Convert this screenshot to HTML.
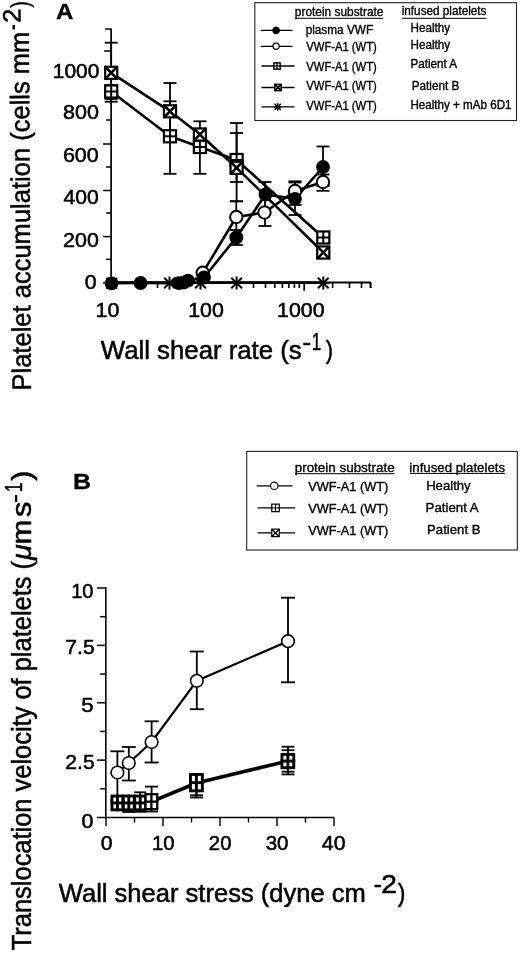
<!DOCTYPE html>
<html><head><meta charset="utf-8"><title>Figure</title>
<style>html,body{margin:0;padding:0;background:#fff}svg{display:block}text{font-family:"Liberation Sans", sans-serif;fill:#000}</style>
</head><body>
<svg width="520" height="954" viewBox="0 0 520 954">
<rect width="520" height="954" fill="#fff"/>
<line x1="111.10" y1="28.50" x2="111.10" y2="283.50" stroke="#000" stroke-width="1.7" />
<line x1="110.30" y1="282.50" x2="371.00" y2="282.50" stroke="#000" stroke-width="1.9" />
<line x1="111.10" y1="282.70" x2="323.70" y2="282.70" stroke="#000" stroke-width="2.7" />
<line x1="105.10" y1="29.00" x2="111.10" y2="29.00" stroke="#000" stroke-width="1.5" />
<line x1="104.10" y1="51.00" x2="111.10" y2="51.00" stroke="#000" stroke-width="1.5" />
<line x1="104.10" y1="97.00" x2="111.10" y2="97.00" stroke="#000" stroke-width="1.5" />
<line x1="106.10" y1="120.00" x2="111.10" y2="120.00" stroke="#000" stroke-width="1.5" />
<line x1="103.10" y1="144.00" x2="111.10" y2="144.00" stroke="#000" stroke-width="1.5" />
<line x1="106.10" y1="167.00" x2="111.10" y2="167.00" stroke="#000" stroke-width="1.5" />
<line x1="103.10" y1="190.50" x2="111.10" y2="190.50" stroke="#000" stroke-width="1.5" />
<line x1="106.10" y1="213.00" x2="111.10" y2="213.00" stroke="#000" stroke-width="1.5" />
<line x1="103.10" y1="236.60" x2="111.10" y2="236.60" stroke="#000" stroke-width="1.5" />
<line x1="106.10" y1="259.30" x2="111.10" y2="259.30" stroke="#000" stroke-width="1.5" />
<line x1="103.10" y1="283.00" x2="111.10" y2="283.00" stroke="#000" stroke-width="1.5" />
<line x1="157.50" y1="282.50" x2="157.50" y2="288.00" stroke="#000" stroke-width="1.6" />
<line x1="253.50" y1="282.50" x2="253.50" y2="288.00" stroke="#000" stroke-width="1.6" />
<line x1="265.50" y1="282.50" x2="265.50" y2="288.00" stroke="#000" stroke-width="1.6" />
<line x1="274.80" y1="282.50" x2="274.80" y2="288.00" stroke="#000" stroke-width="1.6" />
<line x1="282.40" y1="282.50" x2="282.40" y2="288.00" stroke="#000" stroke-width="1.6" />
<line x1="288.83" y1="282.50" x2="288.83" y2="288.00" stroke="#000" stroke-width="1.6" />
<line x1="294.40" y1="282.50" x2="294.40" y2="288.00" stroke="#000" stroke-width="1.6" />
<line x1="299.31" y1="282.50" x2="299.31" y2="288.00" stroke="#000" stroke-width="1.6" />
<line x1="332.60" y1="282.50" x2="332.60" y2="288.00" stroke="#000" stroke-width="1.6" />
<line x1="349.50" y1="282.50" x2="349.50" y2="288.00" stroke="#000" stroke-width="1.6" />
<line x1="361.50" y1="282.50" x2="361.50" y2="288.00" stroke="#000" stroke-width="1.6" />
<line x1="370.80" y1="282.50" x2="370.80" y2="288.00" stroke="#000" stroke-width="1.6" />
<line x1="304.20" y1="282.50" x2="304.20" y2="290.80" stroke="#000" stroke-width="1.7" />
<line x1="370.30" y1="282.50" x2="370.30" y2="288.00" stroke="#000" stroke-width="1.6" />
<text x="52.83" y="77.50" font-size="19.8" textLength="46.60" lengthAdjust="spacingAndGlyphs" stroke="#000" stroke-width="0.5">1000</text>
<text x="63.03" y="118.90" font-size="19.8" textLength="35.90" lengthAdjust="spacingAndGlyphs" stroke="#000" stroke-width="0.5">800</text>
<text x="62.92" y="162.10" font-size="19.8" textLength="35.91" lengthAdjust="spacingAndGlyphs" stroke="#000" stroke-width="0.5">600</text>
<text x="63.47" y="203.60" font-size="19.8" textLength="35.35" lengthAdjust="spacingAndGlyphs" stroke="#000" stroke-width="0.5">400</text>
<text x="63.13" y="247.40" font-size="19.8" textLength="35.70" lengthAdjust="spacingAndGlyphs" stroke="#000" stroke-width="0.5">200</text>
<text x="84.74" y="289.30" font-size="19.8" textLength="11.94" lengthAdjust="spacingAndGlyphs" stroke="#000" stroke-width="0.5">0</text>
<text x="95.49" y="317.20" font-size="20.8" textLength="23.81" lengthAdjust="spacingAndGlyphs" stroke="#000" stroke-width="0.5">10</text>
<text x="188.20" y="317.20" font-size="20.8" textLength="35.63" lengthAdjust="spacingAndGlyphs" stroke="#000" stroke-width="0.5">100</text>
<text x="277.10" y="317.20" font-size="20.8" textLength="47.55" lengthAdjust="spacingAndGlyphs" stroke="#000" stroke-width="0.5">1000</text>
<text x="100.77" y="358.60" font-size="25.3" textLength="200.99" lengthAdjust="spacingAndGlyphs" stroke="#000" stroke-width="0.5">Wall shear rate (s</text>
<text x="302.62" y="349.80" font-size="24.5" textLength="8.70" lengthAdjust="spacingAndGlyphs" stroke="#000" stroke-width="0.5">-</text>
<text x="311.73" y="349.80" font-size="24.5" textLength="9.44" lengthAdjust="spacingAndGlyphs" stroke="#000" stroke-width="0.5">1</text>
<text x="325.68" y="358.60" font-size="25.3" textLength="7.30" lengthAdjust="spacingAndGlyphs" stroke="#000" stroke-width="0.5">)</text>
<g transform="rotate(-0.36 31.2 389)">
<text x="-390.54" y="0" font-size="26.8" textLength="358.93" lengthAdjust="spacingAndGlyphs" transform="translate(31.00 0) rotate(-90)" stroke="#000" stroke-width="0.5">Platelet accumulation (cells mm</text>
<text x="-29.85" y="0" font-size="25" textLength="5.57" lengthAdjust="spacingAndGlyphs" transform="translate(22.70 0) rotate(-90)" stroke="#000" stroke-width="0.5">-</text>
<text x="-22.67" y="0" font-size="25" textLength="14.18" lengthAdjust="spacingAndGlyphs" transform="translate(22.70 0) rotate(-90)" stroke="#000" stroke-width="0.5">2</text>
<text x="-7.39" y="0" font-size="25" textLength="6.40" lengthAdjust="spacingAndGlyphs" transform="translate(31.00 0) rotate(-90)" stroke="#000" stroke-width="0.5">)</text>
</g>
<text x="56.10" y="19.00" font-size="22" textLength="17.35" lengthAdjust="spacingAndGlyphs" font-weight="bold" stroke="#000" stroke-width="0.3">A</text>
<line x1="111.20" y1="42.70" x2="111.20" y2="99.00" stroke="#000" stroke-width="1.8" />
<line x1="104.70" y1="42.70" x2="117.70" y2="42.70" stroke="#000" stroke-width="1.8" />
<line x1="104.70" y1="99.00" x2="117.70" y2="99.00" stroke="#000" stroke-width="1.8" />
<line x1="111.20" y1="85.00" x2="111.20" y2="101.70" stroke="#000" stroke-width="1.8" />
<line x1="104.70" y1="85.00" x2="117.70" y2="85.00" stroke="#000" stroke-width="1.8" />
<line x1="104.70" y1="101.70" x2="117.70" y2="101.70" stroke="#000" stroke-width="1.8" />
<line x1="170.00" y1="83.00" x2="170.00" y2="139.00" stroke="#000" stroke-width="1.8" />
<line x1="163.50" y1="83.00" x2="176.50" y2="83.00" stroke="#000" stroke-width="1.8" />
<line x1="163.50" y1="139.00" x2="176.50" y2="139.00" stroke="#000" stroke-width="1.8" />
<line x1="170.00" y1="101.30" x2="170.00" y2="173.80" stroke="#000" stroke-width="1.8" />
<line x1="163.50" y1="101.30" x2="176.50" y2="101.30" stroke="#000" stroke-width="1.8" />
<line x1="163.50" y1="173.80" x2="176.50" y2="173.80" stroke="#000" stroke-width="1.8" />
<line x1="199.90" y1="121.30" x2="199.90" y2="150.00" stroke="#000" stroke-width="1.8" />
<line x1="193.40" y1="121.30" x2="206.40" y2="121.30" stroke="#000" stroke-width="1.8" />
<line x1="193.40" y1="150.00" x2="206.40" y2="150.00" stroke="#000" stroke-width="1.8" />
<line x1="199.90" y1="140.00" x2="199.90" y2="173.80" stroke="#000" stroke-width="1.8" />
<line x1="193.40" y1="140.00" x2="206.40" y2="140.00" stroke="#000" stroke-width="1.8" />
<line x1="193.40" y1="173.80" x2="206.40" y2="173.80" stroke="#000" stroke-width="1.8" />
<line x1="236.60" y1="123.00" x2="236.60" y2="201.30" stroke="#000" stroke-width="1.8" />
<line x1="230.10" y1="123.00" x2="243.10" y2="123.00" stroke="#000" stroke-width="1.8" />
<line x1="230.10" y1="201.30" x2="243.10" y2="201.30" stroke="#000" stroke-width="1.8" />
<line x1="236.60" y1="133.00" x2="236.60" y2="182.00" stroke="#000" stroke-width="1.8" />
<line x1="230.10" y1="133.00" x2="243.10" y2="133.00" stroke="#000" stroke-width="1.8" />
<line x1="230.10" y1="182.00" x2="243.10" y2="182.00" stroke="#000" stroke-width="1.8" />
<line x1="236.30" y1="201.30" x2="236.30" y2="235.00" stroke="#000" stroke-width="1.8" />
<line x1="229.80" y1="201.30" x2="242.80" y2="201.30" stroke="#000" stroke-width="1.8" />
<line x1="229.80" y1="235.00" x2="242.80" y2="235.00" stroke="#000" stroke-width="1.8" />
<line x1="236.30" y1="230.00" x2="236.30" y2="245.00" stroke="#000" stroke-width="1.8" />
<line x1="229.80" y1="230.00" x2="242.80" y2="230.00" stroke="#000" stroke-width="1.8" />
<line x1="229.80" y1="245.00" x2="242.80" y2="245.00" stroke="#000" stroke-width="1.8" />
<line x1="265.00" y1="182.00" x2="265.00" y2="226.00" stroke="#000" stroke-width="1.8" />
<line x1="258.50" y1="182.00" x2="271.50" y2="182.00" stroke="#000" stroke-width="1.8" />
<line x1="258.50" y1="226.00" x2="271.50" y2="226.00" stroke="#000" stroke-width="1.8" />
<line x1="295.00" y1="181.30" x2="295.00" y2="215.00" stroke="#000" stroke-width="1.8" />
<line x1="288.50" y1="181.30" x2="301.50" y2="181.30" stroke="#000" stroke-width="1.8" />
<line x1="288.50" y1="215.00" x2="301.50" y2="215.00" stroke="#000" stroke-width="1.8" />
<line x1="295.00" y1="182.50" x2="295.00" y2="205.00" stroke="#000" stroke-width="1.8" />
<line x1="288.50" y1="182.50" x2="301.50" y2="182.50" stroke="#000" stroke-width="1.8" />
<line x1="288.50" y1="205.00" x2="301.50" y2="205.00" stroke="#000" stroke-width="1.8" />
<line x1="323.00" y1="146.50" x2="323.00" y2="186.00" stroke="#000" stroke-width="1.8" />
<line x1="316.50" y1="146.50" x2="329.50" y2="146.50" stroke="#000" stroke-width="1.8" />
<line x1="316.50" y1="186.00" x2="329.50" y2="186.00" stroke="#000" stroke-width="1.8" />
<line x1="323.00" y1="174.50" x2="323.00" y2="190.80" stroke="#000" stroke-width="1.8" />
<line x1="316.50" y1="174.50" x2="329.50" y2="174.50" stroke="#000" stroke-width="1.8" />
<line x1="316.50" y1="190.80" x2="329.50" y2="190.80" stroke="#000" stroke-width="1.8" />
<polyline points="111.20,72.80 170.00,111.30 199.90,134.50 236.60,167.80 323.30,252.50" fill="none" stroke="#000" stroke-width="2.6" stroke-linejoin="round"/>
<polyline points="111.20,91.50 170.00,136.30 199.90,147.00 236.60,160.00 323.30,237.50" fill="none" stroke="#000" stroke-width="2.6" stroke-linejoin="round"/>
<polyline points="111.60,283.30 140.60,283.00 178.80,283.20 188.00,280.60 204.00,277.50 236.30,237.50 265.50,194.50 295.00,198.80 323.00,167.00" fill="none" stroke="#000" stroke-width="2.6" stroke-linejoin="round"/>
<polyline points="202.70,272.80 236.30,217.00 264.50,212.50 295.00,191.00 323.00,182.00" fill="none" stroke="#000" stroke-width="2.6" stroke-linejoin="round"/>
<rect x="105.15" y="85.45" width="12.1" height="12.1" fill="#fff" stroke="#000" stroke-width="2.2"/>
<line x1="105.15" y1="91.50" x2="117.25" y2="91.50" stroke="#000" stroke-width="1.9800000000000002" />
<line x1="111.20" y1="85.45" x2="111.20" y2="97.55" stroke="#000" stroke-width="1.9800000000000002" />
<rect x="163.95" y="130.25" width="12.1" height="12.1" fill="#fff" stroke="#000" stroke-width="2.2"/>
<line x1="163.95" y1="136.30" x2="176.05" y2="136.30" stroke="#000" stroke-width="1.9800000000000002" />
<line x1="170.00" y1="130.25" x2="170.00" y2="142.35" stroke="#000" stroke-width="1.9800000000000002" />
<rect x="193.85" y="140.95" width="12.1" height="12.1" fill="#fff" stroke="#000" stroke-width="2.2"/>
<line x1="193.85" y1="147.00" x2="205.95" y2="147.00" stroke="#000" stroke-width="1.9800000000000002" />
<line x1="199.90" y1="140.95" x2="199.90" y2="153.05" stroke="#000" stroke-width="1.9800000000000002" />
<rect x="230.55" y="153.95" width="12.1" height="12.1" fill="#fff" stroke="#000" stroke-width="2.2"/>
<line x1="230.55" y1="160.00" x2="242.65" y2="160.00" stroke="#000" stroke-width="1.9800000000000002" />
<line x1="236.60" y1="153.95" x2="236.60" y2="166.05" stroke="#000" stroke-width="1.9800000000000002" />
<rect x="317.25" y="231.45" width="12.1" height="12.1" fill="#fff" stroke="#000" stroke-width="2.2"/>
<line x1="317.25" y1="237.50" x2="329.35" y2="237.50" stroke="#000" stroke-width="1.9800000000000002" />
<line x1="323.30" y1="231.45" x2="323.30" y2="243.55" stroke="#000" stroke-width="1.9800000000000002" />
<rect x="105.15" y="66.75" width="12.1" height="12.1" fill="#fff" stroke="#000" stroke-width="2.2"/>
<line x1="105.15" y1="66.75" x2="117.25" y2="78.85" stroke="#000" stroke-width="2.53" />
<line x1="105.15" y1="78.85" x2="117.25" y2="66.75" stroke="#000" stroke-width="2.53" />
<rect x="163.95" y="105.25" width="12.1" height="12.1" fill="#fff" stroke="#000" stroke-width="2.2"/>
<line x1="163.95" y1="105.25" x2="176.05" y2="117.35" stroke="#000" stroke-width="2.53" />
<line x1="163.95" y1="117.35" x2="176.05" y2="105.25" stroke="#000" stroke-width="2.53" />
<rect x="193.85" y="128.45" width="12.1" height="12.1" fill="#fff" stroke="#000" stroke-width="2.2"/>
<line x1="193.85" y1="128.45" x2="205.95" y2="140.55" stroke="#000" stroke-width="2.53" />
<line x1="193.85" y1="140.55" x2="205.95" y2="128.45" stroke="#000" stroke-width="2.53" />
<rect x="230.55" y="161.75" width="12.1" height="12.1" fill="#fff" stroke="#000" stroke-width="2.2"/>
<line x1="230.55" y1="161.75" x2="242.65" y2="173.85" stroke="#000" stroke-width="2.53" />
<line x1="230.55" y1="173.85" x2="242.65" y2="161.75" stroke="#000" stroke-width="2.53" />
<rect x="317.25" y="246.45" width="12.1" height="12.1" fill="#fff" stroke="#000" stroke-width="2.2"/>
<line x1="317.25" y1="246.45" x2="329.35" y2="258.55" stroke="#000" stroke-width="2.53" />
<line x1="317.25" y1="258.55" x2="329.35" y2="246.45" stroke="#000" stroke-width="2.53" />
<circle cx="202.70" cy="272.80" r="6.2" fill="#fff" stroke="#000" stroke-width="2"/>
<circle cx="111.60" cy="283.30" r="6.1" fill="#000" stroke="#000" stroke-width="1.6"/>
<circle cx="140.60" cy="283.00" r="6.1" fill="#000" stroke="#000" stroke-width="1.6"/>
<circle cx="178.80" cy="283.20" r="6.1" fill="#000" stroke="#000" stroke-width="1.6"/>
<circle cx="188.00" cy="280.60" r="6.1" fill="#000" stroke="#000" stroke-width="1.6"/>
<circle cx="204.00" cy="277.50" r="6.1" fill="#000" stroke="#000" stroke-width="1.6"/>
<circle cx="183.50" cy="282.60" r="6.0" fill="#000" stroke="#000" stroke-width="1.6"/>
<line x1="106.27" y1="277.97" x2="116.93" y2="288.63" stroke="#000" stroke-width="2.0" />
<line x1="106.27" y1="288.63" x2="116.93" y2="277.97" stroke="#000" stroke-width="2.0" />
<line x1="105.10" y1="283.30" x2="118.10" y2="283.30" stroke="#000" stroke-width="2.0" />
<line x1="111.60" y1="276.80" x2="111.60" y2="289.80" stroke="#000" stroke-width="2.0" />
<line x1="164.17" y1="277.67" x2="174.83" y2="288.33" stroke="#000" stroke-width="2.0" />
<line x1="164.17" y1="288.33" x2="174.83" y2="277.67" stroke="#000" stroke-width="2.0" />
<line x1="163.00" y1="283.00" x2="176.00" y2="283.00" stroke="#000" stroke-width="2.0" />
<line x1="169.50" y1="276.50" x2="169.50" y2="289.50" stroke="#000" stroke-width="2.0" />
<line x1="195.17" y1="277.67" x2="205.83" y2="288.33" stroke="#000" stroke-width="2.0" />
<line x1="195.17" y1="288.33" x2="205.83" y2="277.67" stroke="#000" stroke-width="2.0" />
<line x1="194.00" y1="283.00" x2="207.00" y2="283.00" stroke="#000" stroke-width="2.0" />
<line x1="200.50" y1="276.50" x2="200.50" y2="289.50" stroke="#000" stroke-width="2.0" />
<line x1="231.27" y1="277.67" x2="241.93" y2="288.33" stroke="#000" stroke-width="2.0" />
<line x1="231.27" y1="288.33" x2="241.93" y2="277.67" stroke="#000" stroke-width="2.0" />
<line x1="230.10" y1="283.00" x2="243.10" y2="283.00" stroke="#000" stroke-width="2.0" />
<line x1="236.60" y1="276.50" x2="236.60" y2="289.50" stroke="#000" stroke-width="2.0" />
<line x1="317.97" y1="277.67" x2="328.63" y2="288.33" stroke="#000" stroke-width="2.0" />
<line x1="317.97" y1="288.33" x2="328.63" y2="277.67" stroke="#000" stroke-width="2.0" />
<line x1="316.80" y1="283.00" x2="329.80" y2="283.00" stroke="#000" stroke-width="2.0" />
<line x1="323.30" y1="276.50" x2="323.30" y2="289.50" stroke="#000" stroke-width="2.0" />
<circle cx="236.30" cy="217.00" r="6.2" fill="#fff" stroke="#000" stroke-width="2"/>
<circle cx="236.30" cy="237.50" r="6.1" fill="#000" stroke="#000" stroke-width="1.6"/>
<circle cx="264.50" cy="212.50" r="6.2" fill="#fff" stroke="#000" stroke-width="2"/>
<circle cx="265.50" cy="194.50" r="6.1" fill="#000" stroke="#000" stroke-width="1.6"/>
<circle cx="295.00" cy="191.00" r="6.2" fill="#fff" stroke="#000" stroke-width="2"/>
<circle cx="295.00" cy="198.80" r="6.1" fill="#000" stroke="#000" stroke-width="1.6"/>
<circle cx="323.00" cy="182.00" r="6.2" fill="#fff" stroke="#000" stroke-width="2"/>
<circle cx="323.00" cy="167.00" r="6.1" fill="#000" stroke="#000" stroke-width="1.6"/>
<rect x="254.8" y="2.7" width="261.7" height="117.8" fill="#fff" stroke="#222" stroke-width="1.1"/>
<text x="294.83" y="15.60" font-size="12.2" textLength="88.60" lengthAdjust="spacingAndGlyphs" stroke="#000" stroke-width="0.35">protein substrate</text>
<line x1="295.20" y1="18.30" x2="383.30" y2="18.30" stroke="#000" stroke-width="1" />
<text x="401.74" y="15.30" font-size="12.2" textLength="84.70" lengthAdjust="spacingAndGlyphs" stroke="#000" stroke-width="0.35">infused platelets</text>
<line x1="402.10" y1="18.30" x2="486.40" y2="18.30" stroke="#000" stroke-width="1" />
<text x="305.63" y="33.70" font-size="12" textLength="67.48" lengthAdjust="spacingAndGlyphs" stroke="#000" stroke-width="0.35">plasma VWF</text>
<text x="306.34" y="51.20" font-size="12" textLength="70.45" lengthAdjust="spacingAndGlyphs" stroke="#000" stroke-width="0.35">VWF-A1 (WT)</text>
<text x="306.34" y="70.50" font-size="12" textLength="70.45" lengthAdjust="spacingAndGlyphs" stroke="#000" stroke-width="0.35">VWF-A1 (WT)</text>
<text x="306.34" y="90.20" font-size="12" textLength="70.45" lengthAdjust="spacingAndGlyphs" stroke="#000" stroke-width="0.35">VWF-A1 (WT)</text>
<text x="306.34" y="110.40" font-size="12" textLength="70.45" lengthAdjust="spacingAndGlyphs" stroke="#000" stroke-width="0.35">VWF-A1 (WT)</text>
<text x="410.46" y="31.90" font-size="12" textLength="39.70" lengthAdjust="spacingAndGlyphs" stroke="#000" stroke-width="0.35">Healthy</text>
<text x="410.46" y="48.90" font-size="12" textLength="39.70" lengthAdjust="spacingAndGlyphs" stroke="#000" stroke-width="0.35">Healthy</text>
<text x="410.47" y="68.00" font-size="12" textLength="46.67" lengthAdjust="spacingAndGlyphs" stroke="#000" stroke-width="0.35">Patient A</text>
<text x="411.76" y="89.50" font-size="12" textLength="47.46" lengthAdjust="spacingAndGlyphs" stroke="#000" stroke-width="0.35">Patient B</text>
<text x="410.47" y="108.50" font-size="12" textLength="101.10" lengthAdjust="spacingAndGlyphs" stroke="#000" stroke-width="0.35">Healthy + mAb 6D1</text>
<line x1="260.80" y1="30.40" x2="292.50" y2="30.40" stroke="#000" stroke-width="1.3" />
<line x1="260.80" y1="46.30" x2="292.50" y2="46.30" stroke="#000" stroke-width="1.3" />
<line x1="261.50" y1="66.00" x2="294.50" y2="66.00" stroke="#000" stroke-width="1.3" />
<line x1="261.50" y1="87.50" x2="294.50" y2="87.50" stroke="#000" stroke-width="1.3" />
<line x1="261.50" y1="106.90" x2="294.50" y2="106.90" stroke="#000" stroke-width="1.3" />
<circle cx="276.10" cy="30.40" r="3.4" fill="#000" stroke="#000" stroke-width="1"/>
<circle cx="276.10" cy="46.30" r="3.1" fill="#fff" stroke="#000" stroke-width="1.2"/>
<rect x="273.85" y="62.85" width="6.3" height="6.3" fill="#fff" stroke="#000" stroke-width="1.4"/>
<line x1="273.85" y1="66.00" x2="280.15" y2="66.00" stroke="#000" stroke-width="1.26" />
<line x1="277.00" y1="62.85" x2="277.00" y2="69.15" stroke="#000" stroke-width="1.26" />
<rect x="274.85" y="84.35" width="6.3" height="6.3" fill="#fff" stroke="#000" stroke-width="1.5"/>
<line x1="274.85" y1="84.35" x2="281.15" y2="90.65" stroke="#000" stroke-width="1.7249999999999999" />
<line x1="274.85" y1="90.65" x2="281.15" y2="84.35" stroke="#000" stroke-width="1.7249999999999999" />
<line x1="274.58" y1="103.78" x2="280.82" y2="110.02" stroke="#000" stroke-width="1.4" />
<line x1="274.58" y1="110.02" x2="280.82" y2="103.78" stroke="#000" stroke-width="1.4" />
<line x1="273.90" y1="106.90" x2="281.50" y2="106.90" stroke="#000" stroke-width="1.4" />
<line x1="277.70" y1="103.10" x2="277.70" y2="110.70" stroke="#000" stroke-width="1.4" />
<line x1="105.80" y1="587.30" x2="105.80" y2="818.30" stroke="#000" stroke-width="1.6" />
<line x1="105.00" y1="817.50" x2="334.00" y2="817.50" stroke="#000" stroke-width="1.6" />
<line x1="97.10" y1="817.50" x2="105.80" y2="817.50" stroke="#000" stroke-width="1.5" />
<line x1="100.20" y1="788.81" x2="105.80" y2="788.81" stroke="#000" stroke-width="1.5" />
<line x1="97.10" y1="760.12" x2="105.80" y2="760.12" stroke="#000" stroke-width="1.5" />
<line x1="100.20" y1="731.44" x2="105.80" y2="731.44" stroke="#000" stroke-width="1.5" />
<line x1="97.10" y1="702.75" x2="105.80" y2="702.75" stroke="#000" stroke-width="1.5" />
<line x1="100.20" y1="674.06" x2="105.80" y2="674.06" stroke="#000" stroke-width="1.5" />
<line x1="97.10" y1="645.38" x2="105.80" y2="645.38" stroke="#000" stroke-width="1.5" />
<line x1="100.20" y1="616.69" x2="105.80" y2="616.69" stroke="#000" stroke-width="1.5" />
<line x1="97.10" y1="588.00" x2="105.80" y2="588.00" stroke="#000" stroke-width="1.5" />
<line x1="106.00" y1="817.50" x2="106.00" y2="826.00" stroke="#000" stroke-width="1.4" />
<line x1="134.50" y1="817.50" x2="134.50" y2="822.50" stroke="#000" stroke-width="1.4" />
<line x1="163.00" y1="817.50" x2="163.00" y2="826.00" stroke="#000" stroke-width="1.4" />
<line x1="191.50" y1="817.50" x2="191.50" y2="822.50" stroke="#000" stroke-width="1.4" />
<line x1="220.00" y1="817.50" x2="220.00" y2="826.00" stroke="#000" stroke-width="1.4" />
<line x1="248.50" y1="817.50" x2="248.50" y2="822.50" stroke="#000" stroke-width="1.4" />
<line x1="277.00" y1="817.50" x2="277.00" y2="826.00" stroke="#000" stroke-width="1.4" />
<line x1="305.50" y1="817.50" x2="305.50" y2="822.50" stroke="#000" stroke-width="1.4" />
<line x1="334.00" y1="817.50" x2="334.00" y2="826.00" stroke="#000" stroke-width="1.4" />
<text x="71.19" y="597.70" font-size="19.8" textLength="22.36" lengthAdjust="spacingAndGlyphs" stroke="#000" stroke-width="0.5">10</text>
<text x="65.35" y="654.00" font-size="19.8" textLength="29.30" lengthAdjust="spacingAndGlyphs" stroke="#000" stroke-width="0.5">7.5</text>
<text x="81.31" y="711.50" font-size="19.8" textLength="12.41" lengthAdjust="spacingAndGlyphs" stroke="#000" stroke-width="0.5">5</text>
<text x="65.35" y="769.30" font-size="19.8" textLength="29.30" lengthAdjust="spacingAndGlyphs" stroke="#000" stroke-width="0.5">2.5</text>
<text x="81.64" y="827.50" font-size="19.8" textLength="11.94" lengthAdjust="spacingAndGlyphs" stroke="#000" stroke-width="0.5">0</text>
<text x="100.75" y="849.80" font-size="20" textLength="11.83" lengthAdjust="spacingAndGlyphs" stroke="#000" stroke-width="0.5">0</text>
<text x="151.97" y="849.80" font-size="20" textLength="22.69" lengthAdjust="spacingAndGlyphs" stroke="#000" stroke-width="0.5">10</text>
<text x="208.89" y="849.80" font-size="20" textLength="22.57" lengthAdjust="spacingAndGlyphs" stroke="#000" stroke-width="0.5">20</text>
<text x="265.68" y="849.80" font-size="20" textLength="22.89" lengthAdjust="spacingAndGlyphs" stroke="#000" stroke-width="0.5">30</text>
<text x="321.77" y="849.80" font-size="20" textLength="23.74" lengthAdjust="spacingAndGlyphs" stroke="#000" stroke-width="0.5">40</text>
<text x="58.77" y="902.30" font-size="25.3" textLength="307.03" lengthAdjust="spacingAndGlyphs" stroke="#000" stroke-width="0.5">Wall shear stress (dyne cm</text>
<text x="373.82" y="893.30" font-size="25" textLength="8.02" lengthAdjust="spacingAndGlyphs" stroke="#000" stroke-width="0.5">-</text>
<text x="381.39" y="893.30" font-size="25" textLength="15.65" lengthAdjust="spacingAndGlyphs" stroke="#000" stroke-width="0.5">2</text>
<text x="397.77" y="902.30" font-size="25.5" textLength="7.69" lengthAdjust="spacingAndGlyphs" stroke="#000" stroke-width="0.5">)</text>
<text x="-950.24" y="0" font-size="26.8" textLength="389.25" lengthAdjust="spacingAndGlyphs" transform="translate(30.80 0) rotate(-90)" stroke="#000" stroke-width="0.5">Translocation velocity of platelets (</text>
<text x="-559.93" y="0" font-size="26.8" textLength="15.64" lengthAdjust="spacingAndGlyphs" transform="translate(30.80 0) rotate(-90)" font-style="italic" stroke="#000" stroke-width="0.5">μ</text>
<text x="-544.53" y="0" font-size="26.8" textLength="24.75" lengthAdjust="spacingAndGlyphs" transform="translate(30.80 0) rotate(-90)" stroke="#000" stroke-width="0.5">m</text>
<text x="-517.02" y="0" font-size="26.8" textLength="15.29" lengthAdjust="spacingAndGlyphs" transform="translate(30.80 0) rotate(-90)" stroke="#000" stroke-width="0.5">s</text>
<text x="-502.66" y="0" font-size="24" textLength="8.56" lengthAdjust="spacingAndGlyphs" transform="translate(22.00 0) rotate(-90)" stroke="#000" stroke-width="0.5">-</text>
<text x="-491.96" y="0" font-size="24" textLength="9.31" lengthAdjust="spacingAndGlyphs" transform="translate(22.00 0) rotate(-90)" stroke="#000" stroke-width="0.5">1</text>
<text x="-480.81" y="0" font-size="26.8" textLength="10.25" lengthAdjust="spacingAndGlyphs" transform="translate(30.80 0) rotate(-90)" stroke="#000" stroke-width="0.5">)</text>
<text x="73.08" y="489.20" font-size="22.3" textLength="18.00" lengthAdjust="spacingAndGlyphs" font-weight="bold" stroke="#000" stroke-width="0.3">B</text>
<line x1="117.40" y1="751.30" x2="117.40" y2="800.00" stroke="#000" stroke-width="1.8" />
<line x1="110.40" y1="751.30" x2="124.40" y2="751.30" stroke="#000" stroke-width="1.8" />
<line x1="110.40" y1="800.00" x2="124.40" y2="800.00" stroke="#000" stroke-width="1.8" />
<line x1="128.80" y1="747.00" x2="128.80" y2="780.50" stroke="#000" stroke-width="1.8" />
<line x1="121.80" y1="747.00" x2="135.80" y2="747.00" stroke="#000" stroke-width="1.8" />
<line x1="121.80" y1="780.50" x2="135.80" y2="780.50" stroke="#000" stroke-width="1.8" />
<line x1="151.60" y1="721.30" x2="151.60" y2="762.50" stroke="#000" stroke-width="1.8" />
<line x1="144.60" y1="721.30" x2="158.60" y2="721.30" stroke="#000" stroke-width="1.8" />
<line x1="144.60" y1="762.50" x2="158.60" y2="762.50" stroke="#000" stroke-width="1.8" />
<line x1="196.80" y1="651.50" x2="196.80" y2="709.20" stroke="#000" stroke-width="1.8" />
<line x1="189.80" y1="651.50" x2="203.80" y2="651.50" stroke="#000" stroke-width="1.8" />
<line x1="189.80" y1="709.20" x2="203.80" y2="709.20" stroke="#000" stroke-width="1.8" />
<line x1="288.00" y1="597.70" x2="288.00" y2="682.30" stroke="#000" stroke-width="1.8" />
<line x1="281.00" y1="597.70" x2="295.00" y2="597.70" stroke="#000" stroke-width="1.8" />
<line x1="281.00" y1="682.30" x2="295.00" y2="682.30" stroke="#000" stroke-width="1.8" />
<polyline points="117.40,772.50 128.80,763.00 151.60,742.00 196.80,680.80 288.00,641.20" fill="none" stroke="#000" stroke-width="2.2" stroke-linejoin="round"/>
<line x1="151.60" y1="786.60" x2="151.60" y2="811.50" stroke="#000" stroke-width="1.8" />
<line x1="145.10" y1="786.60" x2="158.10" y2="786.60" stroke="#000" stroke-width="1.8" />
<line x1="145.10" y1="811.50" x2="158.10" y2="811.50" stroke="#000" stroke-width="1.8" />
<line x1="140.20" y1="792.30" x2="140.20" y2="811.80" stroke="#000" stroke-width="1.8" />
<line x1="134.20" y1="792.30" x2="146.20" y2="792.30" stroke="#000" stroke-width="1.8" />
<line x1="134.20" y1="811.80" x2="146.20" y2="811.80" stroke="#000" stroke-width="1.8" />
<line x1="128.80" y1="800.00" x2="128.80" y2="812.00" stroke="#000" stroke-width="1.8" />
<line x1="122.30" y1="800.00" x2="135.30" y2="800.00" stroke="#000" stroke-width="1.8" />
<line x1="122.30" y1="812.00" x2="135.30" y2="812.00" stroke="#000" stroke-width="1.8" />
<line x1="196.50" y1="780.00" x2="196.50" y2="795.30" stroke="#000" stroke-width="1.8" />
<line x1="190.00" y1="780.00" x2="203.00" y2="780.00" stroke="#000" stroke-width="1.8" />
<line x1="190.00" y1="795.30" x2="203.00" y2="795.30" stroke="#000" stroke-width="1.8" />
<line x1="196.50" y1="780.00" x2="196.50" y2="797.50" stroke="#000" stroke-width="1.8" />
<line x1="190.00" y1="780.00" x2="203.00" y2="780.00" stroke="#000" stroke-width="1.8" />
<line x1="190.00" y1="797.50" x2="203.00" y2="797.50" stroke="#000" stroke-width="1.8" />
<line x1="288.00" y1="746.70" x2="288.00" y2="774.40" stroke="#000" stroke-width="1.8" />
<line x1="281.50" y1="746.70" x2="294.50" y2="746.70" stroke="#000" stroke-width="1.8" />
<line x1="281.50" y1="774.40" x2="294.50" y2="774.40" stroke="#000" stroke-width="1.8" />
<line x1="288.00" y1="750.20" x2="288.00" y2="771.70" stroke="#000" stroke-width="1.8" />
<line x1="281.50" y1="750.20" x2="294.50" y2="750.20" stroke="#000" stroke-width="1.8" />
<line x1="281.50" y1="771.70" x2="294.50" y2="771.70" stroke="#000" stroke-width="1.8" />
<polyline points="151.60,801.70 196.50,783.00 288.00,761.00" fill="none" stroke="#000" stroke-width="3.6" stroke-linejoin="round"/>
<polyline points="117.40,803.00 128.80,803.00 140.20,803.00 151.60,801.70" fill="none" stroke="#000" stroke-width="2" stroke-linejoin="round"/>
<rect x="111.95" y="796.05" width="10.90" height="13.80" fill="#fff" stroke="#000" stroke-width="2.9"/>
<line x1="110.50" y1="802.95" x2="124.30" y2="802.95" stroke="#000" stroke-width="2.9" />
<line x1="117.40" y1="794.60" x2="117.40" y2="811.30" stroke="#000" stroke-width="2.9" />
<rect x="123.35" y="796.05" width="10.90" height="13.80" fill="#fff" stroke="#000" stroke-width="2.9"/>
<line x1="121.90" y1="802.95" x2="135.70" y2="802.95" stroke="#000" stroke-width="2.9" />
<line x1="128.80" y1="794.60" x2="128.80" y2="811.30" stroke="#000" stroke-width="2.9" />
<rect x="134.75" y="796.05" width="10.90" height="13.80" fill="#fff" stroke="#000" stroke-width="2.9"/>
<line x1="133.30" y1="802.95" x2="147.10" y2="802.95" stroke="#000" stroke-width="2.9" />
<line x1="140.20" y1="794.60" x2="140.20" y2="811.30" stroke="#000" stroke-width="2.9" />
<rect x="145.55" y="794.15" width="11.70" height="15.00" fill="#fff" stroke="#000" stroke-width="2.3"/>
<line x1="144.40" y1="801.65" x2="158.40" y2="801.65" stroke="#000" stroke-width="2.3" />
<line x1="151.40" y1="793.00" x2="151.40" y2="810.30" stroke="#000" stroke-width="2.3" />
<rect x="190.45" y="774.45" width="11.90" height="16.40" fill="#fff" stroke="#000" stroke-width="2.9"/>
<line x1="189.00" y1="782.65" x2="203.80" y2="782.65" stroke="#000" stroke-width="2.9" />
<line x1="196.40" y1="773.00" x2="196.40" y2="792.30" stroke="#000" stroke-width="2.9" />
<rect x="281.95" y="754.35" width="11.80" height="13.40" fill="#fff" stroke="#000" stroke-width="2.9"/>
<line x1="280.50" y1="761.05" x2="295.20" y2="761.05" stroke="#000" stroke-width="2.9" />
<line x1="287.85" y1="752.90" x2="287.85" y2="769.20" stroke="#000" stroke-width="2.9" />
<circle cx="117.40" cy="772.50" r="6.3" fill="#fff" stroke="#000" stroke-width="1.6"/>
<circle cx="128.80" cy="763.00" r="6.3" fill="#fff" stroke="#000" stroke-width="1.6"/>
<circle cx="151.60" cy="742.00" r="6.3" fill="#fff" stroke="#000" stroke-width="1.6"/>
<circle cx="196.80" cy="680.80" r="6.3" fill="#fff" stroke="#000" stroke-width="1.6"/>
<circle cx="288.00" cy="641.20" r="6.3" fill="#fff" stroke="#000" stroke-width="1.6"/>
<rect x="246.7" y="451.4" width="270.6" height="98.6" fill="#fff" stroke="#222" stroke-width="1.1"/>
<text x="294.73" y="471.90" font-size="13" textLength="99.96" lengthAdjust="spacingAndGlyphs" stroke="#000" stroke-width="0.35">protein substrate</text>
<line x1="295.20" y1="473.70" x2="394.50" y2="473.70" stroke="#000" stroke-width="1" />
<text x="409.34" y="471.60" font-size="13" textLength="95.75" lengthAdjust="spacingAndGlyphs" stroke="#000" stroke-width="0.35">infused platelets</text>
<line x1="409.80" y1="473.40" x2="505.00" y2="473.40" stroke="#000" stroke-width="1" />
<text x="308.24" y="491.20" font-size="13" textLength="80.05" lengthAdjust="spacingAndGlyphs" stroke="#000" stroke-width="0.35">VWF-A1 (WT)</text>
<text x="308.24" y="513.20" font-size="13" textLength="80.05" lengthAdjust="spacingAndGlyphs" stroke="#000" stroke-width="0.35">VWF-A1 (WT)</text>
<text x="308.24" y="534.80" font-size="13" textLength="80.05" lengthAdjust="spacingAndGlyphs" stroke="#000" stroke-width="0.35">VWF-A1 (WT)</text>
<text x="426.15" y="489.60" font-size="13" textLength="44.53" lengthAdjust="spacingAndGlyphs" stroke="#000" stroke-width="0.35">Healthy</text>
<text x="425.54" y="512.10" font-size="13" textLength="53.10" lengthAdjust="spacingAndGlyphs" stroke="#000" stroke-width="0.35">Patient A</text>
<text x="427.05" y="533.70" font-size="13" textLength="53.45" lengthAdjust="spacingAndGlyphs" stroke="#000" stroke-width="0.35">Patient B</text>
<line x1="256.70" y1="485.80" x2="292.50" y2="485.80" stroke="#000" stroke-width="1.2" />
<circle cx="274.20" cy="485.80" r="3.7" fill="#fff" stroke="#000" stroke-width="1.1"/>
<line x1="257.50" y1="507.90" x2="295.20" y2="507.90" stroke="#000" stroke-width="1.2" />
<rect x="271.75" y="504.15" width="7.5" height="7.5" fill="#fff" stroke="#000" stroke-width="1.2"/>
<line x1="271.75" y1="507.90" x2="279.25" y2="507.90" stroke="#000" stroke-width="1.08" />
<line x1="275.50" y1="504.15" x2="275.50" y2="511.65" stroke="#000" stroke-width="1.08" />
<line x1="257.50" y1="532.90" x2="295.20" y2="532.90" stroke="#000" stroke-width="1.2" />
<rect x="271.75" y="529.15" width="7.5" height="7.5" fill="#fff" stroke="#000" stroke-width="1.2"/>
<line x1="271.75" y1="529.15" x2="279.25" y2="536.65" stroke="#000" stroke-width="1.38" />
<line x1="271.75" y1="536.65" x2="279.25" y2="529.15" stroke="#000" stroke-width="1.38" />
</svg>
</body></html>
